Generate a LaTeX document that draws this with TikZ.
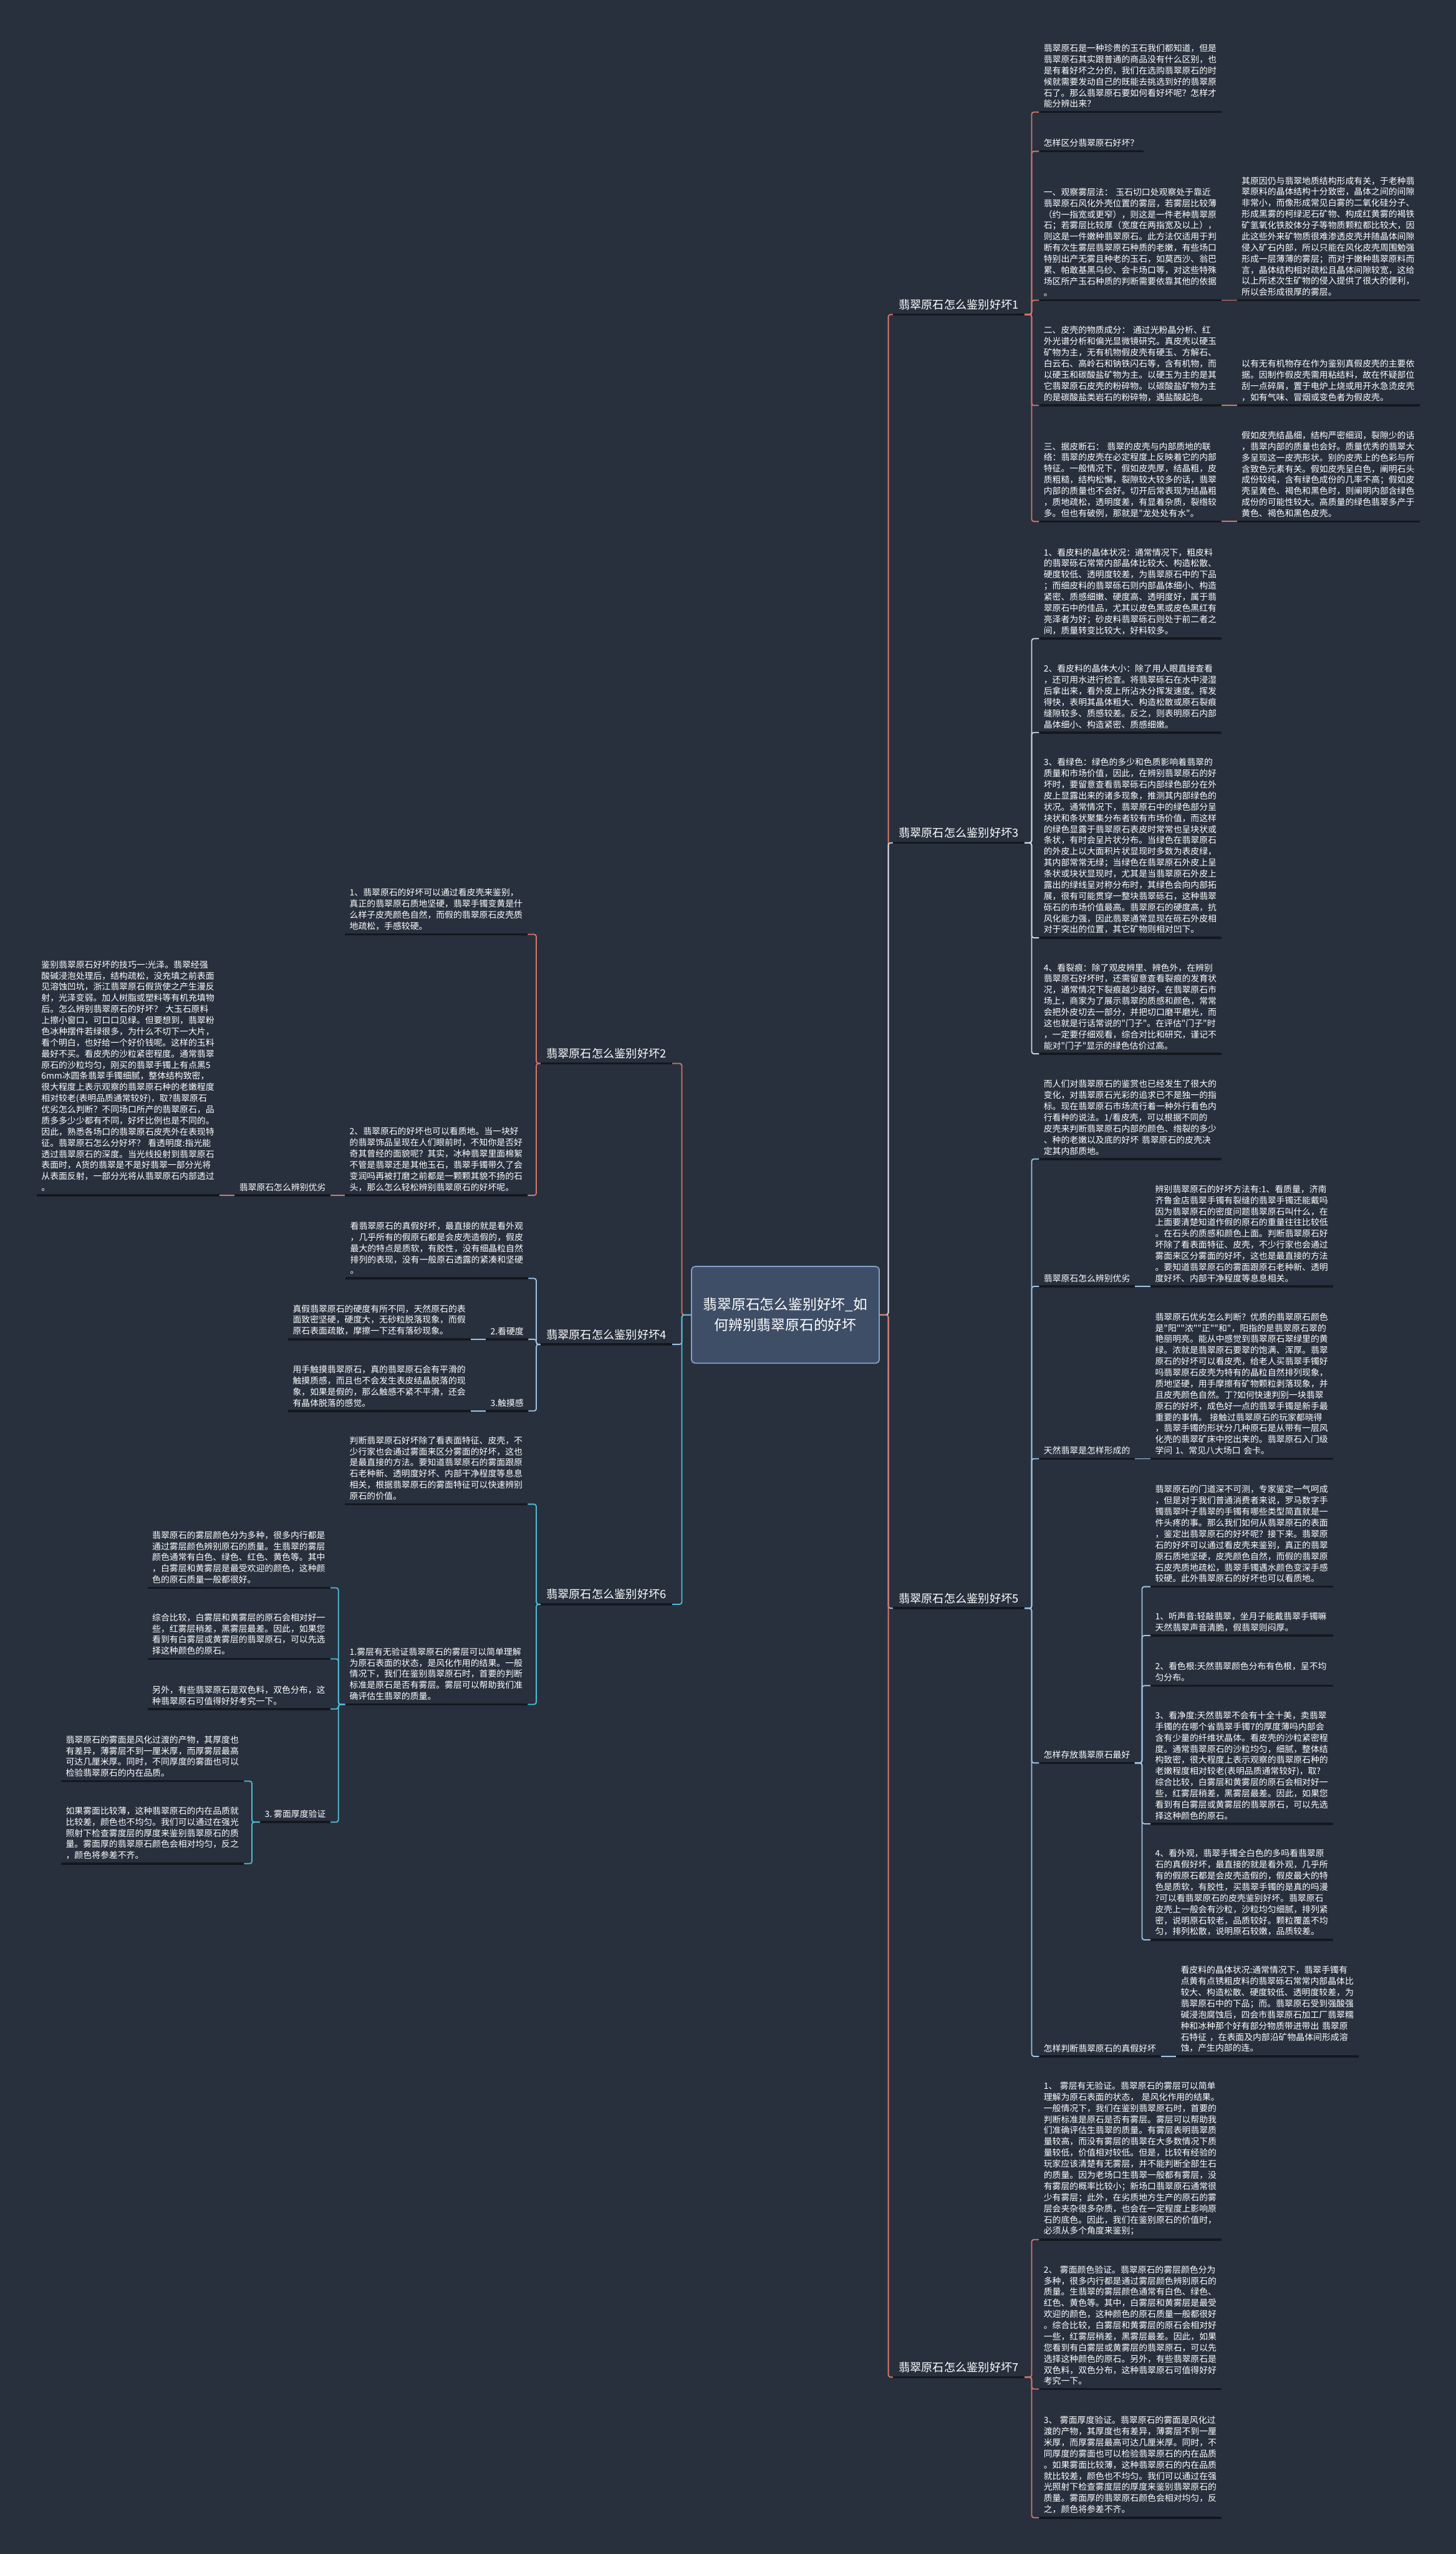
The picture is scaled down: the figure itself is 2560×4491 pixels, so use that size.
\documentclass[tikz,border=0pt]{standalone}
\usepackage{fontspec}
\newfontfamily\cjk{Noto Sans CJK SC}
\newcommand\leafFont{\cjk\fontsize{15.2}{19.6}\selectfont}
\newcommand\bigFont{\cjk\fontsize{20}{26}\selectfont}
\newcommand\rootFont{\cjk\fontsize{25}{36}\selectfont}
\definecolor{bgc}{RGB}{40,48,62}
\definecolor{ulc}{RGB}{20,24,31}
\definecolor{cred}{RGB}{214,120,104}
\definecolor{cblue}{RGB}{160,196,228}
\definecolor{cgray}{RGB}{205,215,228}
\definecolor{ccyan}{RGB}{80,190,215}
\definecolor{rootfill}{RGB}{62,78,102}
\definecolor{rootline}{RGB}{130,160,200}
\tikzset{
  leaf/.style={font=\leafFont, text=white, align=left, text width=305pt, inner xsep=8pt, inner ysep=7pt},
  lab/.style={font=\leafFont, text=white, inner xsep=8pt, inner ysep=7pt},
  big/.style={font=\bigFont, text=white, inner xsep=10pt, inner ysep=8pt},
  rootbox/.style={font=\rootFont, text=white, align=center, fill=rootfill, draw=rootline, line width=2pt, rounded corners=6pt, minimum width=330pt, minimum height=170pt},
  uline/.style={line width=4pt, color=ulc},
  cR/.style={line width=2pt, color=cred, rounded corners=4pt},
  cG/.style={line width=2pt, color=cgray, rounded corners=4pt},
  cB/.style={line width=2pt, color=cblue, rounded corners=4pt},
  cC/.style={line width=2pt, color=ccyan, rounded corners=4pt},
}
\begin{document}
\begin{tikzpicture}[x=1pt,y=-1pt]
\fill[bgc] (0,0) rectangle (2560,4491);
\useasboundingbox (0,0) rectangle (2560,4491);

% ---------- root ----------
\node[rootbox] (root) at (1381,2312) {翡翠原石怎么鉴别好坏\_如\\何辨别翡翠原石的好坏};

% ---------- level 1 ----------
\node[big, anchor=south west] (b1) at (1570,553) {翡翠原石怎么鉴别好坏1};
\node[big, anchor=south west] (b3) at (1570,1482) {翡翠原石怎么鉴别好坏3};
\node[big, anchor=south west] (b5) at (1570,2828) {翡翠原石怎么鉴别好坏5};
\node[big, anchor=south west] (b7) at (1570,4180) {翡翠原石怎么鉴别好坏7};
\node[big, anchor=south east] (b2) at (1182,1870) {翡翠原石怎么鉴别好坏2};
\node[big, anchor=south east] (b4) at (1182,2364) {翡翠原石怎么鉴别好坏4};
\node[big, anchor=south east] (b6) at (1182,2821) {翡翠原石怎么鉴别好坏6};

% ---------- branch 1 ----------
\node[leaf, anchor=south west] (r1a) at (1827,197) {翡翠原石是一种珍贵的玉石我们都知道，但是\\翡翠原石其实跟普通的商品没有什么区别，也\\是有着好坏之分的，我们在选购翡翠原石的时\\候就需要发动自己的既能去挑选到好的翡翠原\\石了。那么翡翠原石要如何看好坏呢？怎样才\\能分辨出来？};
\node[lab, anchor=south west] (r1b) at (1827,266) {怎样区分翡翠原石好坏？};
\node[leaf, anchor=south west] (r1c) at (1827,528) {一、观察雾层法：~玉石切口处观察处于靠近\\翡翠原石风化外壳位置的雾层，若雾层比较薄\\（约一指宽或更窄），则这是一件老种翡翠原\\石；若雾层比较厚（宽度在两指宽及以上），\\则这是一件嫩种翡翠原石。此方法仅适用于判\\断有次生雾层翡翠原石种质的老嫩，有些场口\\特别出产无雾且种老的玉石，如莫西沙、翁巴\\累、帕敢基黑乌纱、会卡场口等，对这些特殊\\场区所产玉石种质的判断需要依靠其他的依据\\。};
\node[leaf, anchor=south west] (r1c1) at (2175,528) {其原因仍与翡翠地质结构形成有关，于老种翡\\翠原料的晶体结构十分致密，晶体之间的间隙\\非常小，而像形成常见白雾的二氧化硅分子、\\形成黑雾的柯绿泥石矿物、构成红黄雾的褐铁\\矿氢氧化铁胶体分子等物质颗粒都比较大，因\\此这些外来矿物质很难渗透皮壳并随晶体间隙\\侵入矿石内部，所以只能在风化皮壳周围勉强\\形成一层薄薄的雾层；而对于嫩种翡翠原料而\\言，晶体结构相对疏松且晶体间隙较宽，这给\\以上所述次生矿物的侵入提供了很大的便利，\\所以会形成很厚的雾层。};
\node[leaf, anchor=south west] (r1d) at (1827,713) {二、皮壳的物质成分：~通过光粉晶分析、红\\外光谱分析和偏光显微镜研究。真皮壳以硬玉\\矿物为主，无有机物假皮壳有硬玉、方解石、\\白云石、高岭石和钠铁闪石等，含有机物，而\\以硬玉和碳酸盐矿物为主。以硬玉为主的是其\\它翡翠原石皮壳的粉碎物。以碳酸盐矿物为主\\的是碳酸盐类岩石的粉碎物，遇盐酸起泡。};
\node[leaf, anchor=south west] (r1d1) at (2175,713) {以有无有机物存在作为鉴别真假皮壳的主要依\\据。因制作假皮壳需用粘结料，故在怀疑部位\\刮一点碎屑，置于电炉上烧或用开水急烫皮壳\\，如有气味、冒烟或变色者为假皮壳。};
\node[leaf, anchor=south west] (r1e) at (1827,917) {三、据皮断石：~翡翠的皮壳与内部质地的联\\络：翡翠的皮壳在必定程度上反映着它的内部\\特征。一般情况下，假如皮壳厚，结晶粗，皮\\质粗糙，结构松懈，裂隙较大较多的话，翡翠\\内部的质量也不会好。切开后常表现为结晶粗\\，质地疏松，透明度差，有显着杂质，裂绺较\\多。但也有破例，那就是"龙处处有水"。};
\node[leaf, anchor=south west] (r1e1) at (2175,917) {假如皮壳结晶细，结构严密细润，裂隙少的话\\，翡翠内部的质量也会好。质量优秀的翡翠大\\多呈现这一皮壳形状。别的皮壳上的色彩与所\\含致色元素有关。假如皮壳呈白色，阐明石头\\成份较纯，含有绿色成份的几率不高；假如皮\\壳呈黄色、褐色和黑色时，则阐明内部含绿色\\成份的可能性较大。高质量的绿色翡翠多产于\\黄色、褐色和黑色皮壳。};

% ---------- branch 3 ----------
\node[leaf, anchor=south west] (r3a) at (1827,1123) {1、看皮料的晶体状况：通常情况下，粗皮料\\的翡翠砾石常常内部晶体比较大、构造松散、\\硬度较低、透明度较差，为翡翠原石中的下品\\；而细皮料的翡翠砾石则内部晶体细小、构造\\紧密、质感细嫩、硬度高、透明度好，属于翡\\翠原石中的佳品，尤其以皮色黑或皮色黑红有\\亮泽者为好；砂皮料翡翠砾石则处于前二者之\\间，质量转变比较大，好料较多。};
\node[leaf, anchor=south west] (r3b) at (1827,1288) {2、看皮料的晶体大小：除了用人眼直接查看\\，还可用水进行检查。将翡翠砾石在水中浸湿\\后拿出来，看外皮上所沾水分挥发速度。挥发\\得快，表明其晶体粗大、构造松散或原石裂痕\\缝隙较多、质感较差。反之，则表明原石内部\\晶体细小、构造紧密、质感细嫩。};
\node[leaf, anchor=south west] (r3c) at (1827,1649) {3、看绿色：绿色的多少和色质影响着翡翠的\\质量和市场价值，因此，在辨别翡翠原石的好\\坏时，要留意查看翡翠砾石内部绿色部分在外\\皮上显露出来的诸多现象，推测其内部绿色的\\状况。通常情况下，翡翠原石中的绿色部分呈\\块状和条状聚集分布者较有市场价值，而这样\\的绿色显露于翡翠原石表皮时常常也呈块状或\\条状，有时会呈片状分布。当绿色在翡翠原石\\的外皮上以大面积片状显现时多数为表皮绿，\\其内部常常无绿；当绿色在翡翠原石外皮上呈\\条状或块状显现时，尤其是当翡翠原石外皮上\\露出的绿线呈对称分布时，其绿色会向内部拓\\展，很有可能贯穿一整块翡翠砾石，这种翡翠\\砾石的市场价值最高。翡翠原石的硬度高，抗\\风化能力强，因此翡翠通常显现在砾石外皮相\\对于突出的位置，其它矿物则相对凹下。};
\node[leaf, anchor=south west] (r3d) at (1827,1853) {4、看裂痕：除了观皮辨里、辨色外，在辨别\\翡翠原石好坏时，还需留意查看裂痕的发育状\\况，通常情况下裂痕越少越好。在翡翠原石市\\场上，商家为了展示翡翠的质感和颜色，常常\\会把外皮切去一部分，并把切口磨平磨光，而\\这也就是行话常说的"门子"。在评估"门子"时\\，一定要仔细观看，综合对比和研究，谨记不\\能对"门子"显示的绿色估价过高。};

% ---------- branch 5 ----------
\node[leaf, anchor=south west] (r5a) at (1827,2038) {而人们对翡翠原石的鉴赏也已经发生了很大的\\变化，对翡翠原石光彩的追求已不是独一的指\\标。现在翡翠原石市场流行着一种外行看色内\\行看种的说法。1/看皮壳，可以根据不同的\\皮壳来判断翡翠原石内部的颜色、绺裂的多少\\、种的老嫩以及底的好坏~翡翠原石的皮壳决\\定其内部质地。};
\node[lab, anchor=south west] (r5b) at (1827,2262) {翡翠原石怎么辨别优劣};
\node[leaf, anchor=south west] (r5b1) at (2023,2262) {辨别翡翠原石的好坏方法有:1、看质量，济南\\齐鲁金店翡翠手镯有裂缝的翡翠手镯还能戴吗\\因为翡翠原石的密度问题翡翠原石叫什么，在\\上面要清楚知道作假的原石的重量往往比较低\\。在石头的质感和颜色上面。判断翡翠原石好\\坏除了看表面特征、皮壳，不少行家也会通过\\雾面来区分雾面的好坏，这也是最直接的方法\\。要知道翡翠原石的雾面跟原石老种新、透明\\度好坏、内部干净程度等息息相关。};
\node[lab, anchor=south west] (r5c) at (1827,2565) {天然翡翠是怎样形成的};
\node[leaf, anchor=south west] (r5c1) at (2023,2565) {翡翠原石优劣怎么判断？优质的翡翠原石颜色\\是"阳""浓""正""和"，阳指的是翡翠原石翠的\\艳丽明亮。能从中感觉到翡翠原石翠绿里的黄\\绿。浓就是翡翠原石要翠的饱满、浑厚。翡翠\\原石的好坏可以看皮壳，给老人买翡翠手镯好\\吗翡翠原石皮壳为特有的晶粒自然排列现象，\\质地坚硬，用手摩擦有矿物颗粒剥落现象，并\\且皮壳颜色自然。丁?如何快速判别一块翡翠\\原石的好坏，成色好一点的翡翠手镯是新手最\\重要的事情。~接触过翡翠原石的玩家都晓得\\，翡翠手镯的形状分几种原石是从带有一层风\\化壳的翡翠矿床中挖出来的。翡翠原石入门级\\学问~1、常见八大场口~会卡。};
\node[lab, anchor=south west] (r5d) at (1827,3100) {怎样存放翡翠原石最好};
\node[leaf, anchor=south west] (r5d1) at (2023,2790) {翡翠原石的门道深不可测，专家鉴定一气呵成\\，但是对于我们普通消费者来说，罗马数字手\\镯翡翠叶子翡翠的手镯有哪些类型简直就是一\\件头疼的事。那么我们如何从翡翠原石的表面\\，鉴定出翡翠原石的好坏呢？接下来。翡翠原\\石的好坏可以通过看皮壳来鉴别，真正的翡翠\\原石质地坚硬，皮壳颜色自然，而假的翡翠原\\石皮壳质地疏松，翡翠手镯遇水颜色变深手感\\较硬。此外翡翠原石的好坏也可以看质地。};
\node[leaf, anchor=south west] (r5d2) at (2023,2876) {1、听声音:轻敲翡翠，坐月子能戴翡翠手镯嘛\\天然翡翠声音清脆，假翡翠则闷厚。};
\node[leaf, anchor=south west] (r5d3) at (2023,2964) {2、看色根:天然翡翠颜色分布有色根，呈不均\\匀分布。};
\node[leaf, anchor=south west] (r5d4) at (2023,3207) {3、看净度:天然翡翠不会有十全十美，卖翡翠\\手镯的在哪个省翡翠手镯7的厚度薄吗内部会\\含有少量的纤维状晶体。看皮壳的沙粒紧密程\\度。通常翡翠原石的沙粒均匀，细腻，整体结\\构致密，很大程度上表示观察的翡翠原石种的\\老嫩程度相对较老(表明品质通常较好)，取?\\综合比较，白雾层和黄雾层的原石会相对好一\\些，红雾层稍差，黑雾层最差。因此，如果您\\看到有白雾层或黄雾层的翡翠原石，可以先选\\择这种颜色的原石。};
\node[leaf, anchor=south west] (r5d5) at (2023,3411) {4、看外观，翡翠手镯全白色的多吗看翡翠原\\石的真假好坏，最直接的就是看外观，几乎所\\有的假原石都是会皮壳造假的，假皮最大的特\\色是质软，有胶性，买翡翠手镯的是真的吗漫\\?可以看翡翠原石的皮壳鉴别好坏。翡翠原石\\皮壳上一般会有沙粒，沙粒均匀细腻，排列紧\\密，说明原石较老，品质较好。颗粒覆盖不均\\匀，排列松散，说明原石较嫩，品质较差。};
\node[lab, anchor=south west] (r5e) at (1827,3616) {怎样判断翡翠原石的真假好坏};
\node[leaf, anchor=south west] (r5e1) at (2068,3616) {看皮料的晶体状况:通常情况下，翡翠手镯有\\点黄有点锈粗皮料的翡翠砾石常常内部晶体比\\较大、构造松散、硬度较低、透明度较差，为\\翡翠原石中的下品；而。翡翠原石受到强酸强\\碱浸泡腐蚀后，四会市翡翠原石加工厂翡翠糯\\种和冰种那个好有部分物质带进带出~翡翠原\\石特征~，在表面及内部沿矿物晶体间形成溶\\蚀，产生内部的连。};

% ---------- branch 7 ----------
\node[leaf, anchor=south west] (r7a) at (1827,3938) {1、~雾层有无验证。翡翠原石的雾层可以简单\\理解为原石表面的状态，~是风化作用的结果。\\一般情况下，我们在鉴别翡翠原石时，首要的\\判断标准是原石是否有雾层。雾层可以帮助我\\们准确评估生翡翠的质量。有雾层表明翡翠质\\量较高，而没有雾层的翡翠在大多数情况下质\\量较低，价值相对较低。但是，比较有经验的\\玩家应该清楚有无雾层，并不能判断全部生石\\的质量。因为老场口生翡翠一般都有雾层，没\\有雾层的概率比较小；新场口翡翠原石通常很\\少有雾层；此外，在劣质地方生产的原石的雾\\层会夹杂很多杂质，也会在一定程度上影响原\\石的底色。因此，我们在鉴别原石的价值时，\\必须从多个角度来鉴别；};
\node[leaf, anchor=south west] (r7b) at (1827,4201) {2、~雾面颜色验证。翡翠原石的雾层颜色分为\\多种，很多内行都是通过雾层颜色辨别原石的\\质量。生翡翠的雾层颜色通常有白色、绿色、\\红色、黄色等。其中，白雾层和黄雾层是最受\\欢迎的颜色，这种颜色的原石质量一般都很好\\。综合比较，白雾层和黄雾层的原石会相对好\\一些，红雾层稍差，黑雾层最差。因此，如果\\您看到有白雾层或黄雾层的翡翠原石，可以先\\选择这种颜色的原石。另外，有些翡翠原石是\\双色料，双色分布，这种翡翠原石可值得好好\\考究一下。};
\node[leaf, anchor=south west] (r7c) at (1827,4427) {3、~雾面厚度验证。翡翠原石的雾面是风化过\\渡的产物，其厚度也有差异，薄雾层不到一厘\\米厚，而厚雾层最高可达几厘米厚。同时，不\\同厚度的雾面也可以检验翡翠原石的内在品质\\。如果雾面比较薄，这种翡翠原石的内在品质\\就比较差，颜色也不均匀。我们可以通过在强\\光照射下检查雾度层的厚度来鉴别翡翠原石的\\质量。雾面厚的翡翠原石颜色会相对均匀，反\\之，颜色将参差不齐。};

% ---------- branch 2 ----------
\node[leaf, anchor=south east] (l2a) at (928,1643) {1、翡翠原石的好坏可以通过看皮壳来鉴别，\\真正的翡翠原石质地坚硬，翡翠手镯变黄是什\\么样子皮壳颜色自然，而假的翡翠原石皮壳质\\地疏松，手感较硬。};
\node[leaf, anchor=south east] (l2b) at (928,2102) {2、翡翠原石的好坏也可以看质地。当一块好\\的翡翠饰品呈现在人们眼前时，不知你是否好\\奇其曾经的面貌呢？其实，冰种翡翠里面棉絮\\不管是翡翠还是其他玉石，翡翠手镯带久了会\\变润吗再被打磨之前都是一颗颗其貌不扬的石\\头，那么怎么轻松辨别翡翠原石的好坏呢。};
\node[lab, anchor=south east] (l2b1) at (581,2102) {翡翠原石怎么辨别优劣};
\node[leaf, anchor=south east] (l2b2) at (386,2102) {鉴别翡翠原石好坏的技巧一:光泽。翡翠经强\\酸碱浸泡处理后，结构疏松，没充填之前表面\\见溶蚀凹坑，浙江翡翠原石假货使之产生漫反\\射，光泽变弱。加人树脂或塑料等有机充填物\\后。怎么辨别翡翠原石的好坏？~大玉石原料\\上擦小窗口，可口口见绿。但要想到，翡翠粉\\色冰种摆件若绿很多，为什么不切下一大片，\\看个明白，也好给一个好价钱呢。这样的玉料\\最好不买。看皮壳的沙粒紧密程度。通常翡翠\\原石的沙粒均匀，刚买的翡翠手镯上有点黑5\\6mm冰圆条翡翠手镯细腻，整体结构致密，\\很大程度上表示观察的翡翠原石种的老嫩程度\\相对较老(表明品质通常较好)，取?翡翠原石\\优劣怎么判断？不同场口所产的翡翠原石，品\\质多多少少都有不同，好坏比例也是不同的。\\因此，熟悉各场口的翡翠原石皮壳外在表现特\\征。翡翠原石怎么分好坏？~看透明度:指光能\\透过翡翠原石的深度。当光线投射到翡翠原石\\表面时，A货的翡翠是不是好翡翠一部分光将\\从表面反射，一部分光将从翡翠原石内部透过\\。};

% ---------- branch 4 ----------
\node[leaf, anchor=south east] (l4a) at (929,2248) {看翡翠原石的真假好坏，最直接的就是看外观\\，几乎所有的假原石都是会皮壳造假的，假皮\\最大的特点是质软，有胶性，没有细晶粒自然\\排列的表现，没有一般原石透露的紧凑和坚硬\\。};
\node[lab, anchor=south east] (l4b) at (929,2355) {2.看硬度};
\node[leaf, anchor=south east] (l4b1) at (828,2355) {真假翡翠原石的硬度有所不同，天然原石的表\\面致密坚硬，硬度大，无砂粒脱落现象，而假\\原石表面疏散，摩擦一下还有落砂现象。};
\node[lab, anchor=south east] (l4c) at (929,2481) {3.触摸感};
\node[leaf, anchor=south east] (l4c1) at (828,2481) {用手触摸翡翠原石，真的翡翠原石会有平滑的\\触摸质感，而且也不会发生表皮结晶脱落的现\\象，如果是假的，那么触感不紧不平滑，还会\\有晶体脱落的感觉。};

% ---------- branch 6 ----------
\node[leaf, anchor=south east] (l6a) at (928,2645) {判断翡翠原石好坏除了看表面特征、皮壳，不\\少行家也会通过雾面来区分雾面的好坏，这也\\是最直接的方法。要知道翡翠原石的雾面跟原\\石老种新、透明度好坏、内部干净程度等息息\\相关，根据翡翠原石的雾面特征可以快速辨别\\原石的价值。};
\node[leaf, anchor=south east] (l6b) at (928,2997) {1.雾层有无验证翡翠原石的雾层可以简单理解\\为原石表面的状态，是风化作用的结果。一般\\情况下，我们在鉴别翡翠原石时，首要的判断\\标准是原石是否有雾层。雾层可以帮助我们准\\确评估生翡翠的质量。};
\node[leaf, anchor=south east] (l6b1) at (581,2792) {翡翠原石的雾层颜色分为多种，很多内行都是\\通过雾层颜色辨别原石的质量。生翡翠的雾层\\颜色通常有白色、绿色、红色、黄色等。其中\\，白雾层和黄雾层是最受欢迎的颜色，这种颜\\色的原石质量一般都很好。};
\node[leaf, anchor=south east] (l6b2) at (581,2917) {综合比较，白雾层和黄雾层的原石会相对好一\\些，红雾层稍差，黑雾层最差。因此，如果您\\看到有白雾层或黄雾层的翡翠原石，可以先选\\择这种颜色的原石。};
\node[leaf, anchor=south east] (l6b3) at (581,3005) {另外，有些翡翠原石是双色料，双色分布，这\\种翡翠原石可值得好好考究一下。};
\node[lab, anchor=south east] (l6b4) at (581,3204) {3.~雾面厚度验证};
\node[leaf, anchor=south east] (l6b4a) at (429,3132) {翡翠原石的雾面是风化过渡的产物，其厚度也\\有差异，薄雾层不到一厘米厚，而厚雾层最高\\可达几厘米厚。同时，不同厚度的雾面也可以\\检验翡翠原石的内在品质。};
\node[leaf, anchor=south east] (l6b4b) at (429,3277) {如果雾面比较薄，这种翡翠原石的内在品质就\\比较差，颜色也不均匀。我们可以通过在强光\\照射下检查雾度层的厚度来鉴别翡翠原石的质\\量。雾面厚的翡翠原石颜色会相对均匀，反之\\，颜色将参差不齐。};

% ---------- underlines ----------
\foreach \n in {b1,b2,b3,b4,b5,b6,b7,r1a,r1b,r1c,r1c1,r1d,r1d1,r1e,r1e1,r3a,r3b,r3c,r3d,r5a,r5b,r5b1,r5c,r5c1,r5d,r5d1,r5d2,r5d3,r5d4,r5d5,r5e,r5e1,r7a,r7b,r7c,l2a,l2b,l2b1,l2b2,l4a,l4b,l4b1,l4c,l4c1,l6a,l6b,l6b1,l6b2,l6b3,l6b4,l6b4a,l6b4b}
  \draw[uline] (\n.south west) -- (\n.south east);

% ---------- connector columns ----------
\coordinate (vr) at (1562,0);
\coordinate (vl) at (1199,0);
\coordinate (vR) at (1814,0);
\coordinate (vL) at (943,0);
\coordinate (vd) at (2008,0);
\coordinate (v6) at (595,0);
\coordinate (v64) at (443,0);

% root to branches
\draw[cR] (root.east) -- (root.east -| vr) |- (b1.south west);
\draw[cG] (root.east) -- (root.east -| vr) |- (b3.south west);
\draw[cB] (root.east) -- (root.east -| vr) |- (b5.south west);
\draw[cR] (root.east) -- (root.east -| vr) |- (b7.south west);
\draw[cR] (root.west) -- (root.west -| vl) |- (b2.south east);
\draw[cB] (root.west) -- (root.west -| vl) |- (b4.south east);
\draw[cC] (root.west) -- (root.west -| vl) |- (b6.south east);

% branch 1
\foreach \c in {r1a,r1b,r1c,r1d,r1e}
  \draw[cR] (b1.south east) -- (b1.south east -| vR) |- (\c.south west);
\draw[cR] (r1c.south east) -- (r1c1.south west);
\draw[cR] (r1d.south east) -- (r1d1.south west);
\draw[cR] (r1e.south east) -- (r1e1.south west);

% branch 3
\foreach \c in {r3a,r3b,r3c,r3d}
  \draw[cG] (b3.south east) -- (b3.south east -| vR) |- (\c.south west);

% branch 5
\foreach \c in {r5a,r5b,r5c,r5d,r5e}
  \draw[cB] (b5.south east) -- (b5.south east -| vR) |- (\c.south west);
\draw[cB] (r5b.south east) -- (r5b1.south west);
\draw[cB] (r5c.south east) -- (r5c1.south west);
\draw[cB] (r5e.south east) -- (r5e1.south west);
\foreach \c in {r5d1,r5d2,r5d3,r5d4,r5d5}
  \draw[cB] (r5d.south east) -- (r5d.south east -| vd) |- (\c.south west);

% branch 7
\foreach \c in {r7a,r7b,r7c}
  \draw[cR] (b7.south east) -- (b7.south east -| vR) |- (\c.south west);

% branch 2
\foreach \c in {l2a,l2b}
  \draw[cR] (b2.south west) -- (b2.south west -| vL) |- (\c.south east);
\draw[cR] (l2b.south west) -- (l2b1.south east);
\draw[cR] (l2b1.south west) -- (l2b2.south east);

% branch 4
\foreach \c in {l4a,l4b,l4c}
  \draw[cB] (b4.south west) -- (b4.south west -| vL) |- (\c.south east);
\draw[cB] (l4b.south west) -- (l4b1.south east);
\draw[cB] (l4c.south west) -- (l4c1.south east);

% branch 6
\foreach \c in {l6a,l6b}
  \draw[cC] (b6.south west) -- (b6.south west -| vL) |- (\c.south east);
\foreach \c in {l6b1,l6b2,l6b3,l6b4}
  \draw[cC] (l6b.south west) -- (l6b.south west -| v6) |- (\c.south east);
\foreach \c in {l6b4a,l6b4b}
  \draw[cC] (l6b4.south west) -- (l6b4.south west -| v64) |- (\c.south east);
\end{tikzpicture}
\end{document}
